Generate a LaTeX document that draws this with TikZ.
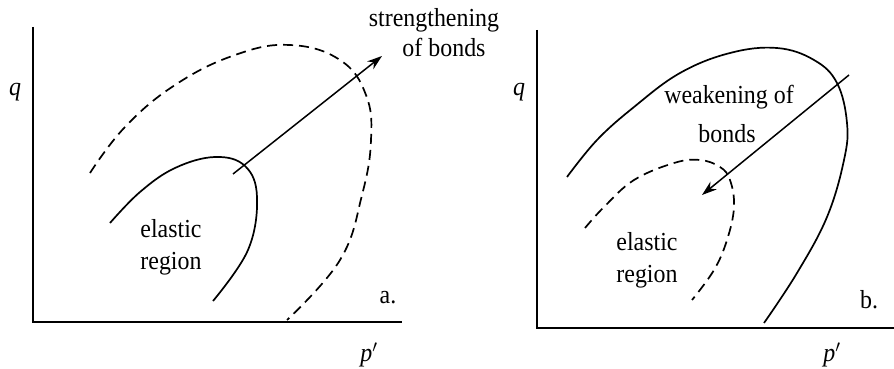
\documentclass[tikz,border=0pt]{standalone}
\usepackage{fontspec}
\setmainfont[FakeStretch=0.92]{Liberation Serif}
\usetikzlibrary{arrows.meta}
\begin{document}
\begin{tikzpicture}[x=1pt,y=-1pt,
  axis/.style={line width=2.2pt},
  yield/.style={line width=1.7pt},
  yielddash/.style={line width=1.7pt,dash pattern=on 10pt off 6pt},
  dirarrow/.style={line width=1.5pt,-{Stealth[length=15pt,width=10pt]}},
  lbl/.style={font=\fontsize{26}{28}\selectfont,inner sep=0pt,align=center},
  ax/.style={font=\fontsize{26}{28}\selectfont\itshape,inner sep=0pt}]
\useasboundingbox (0,0) rectangle (894,369);
% ---------- panel a ----------
\coordinate (a0) at (33,322);
\coordinate (ay) at (33,27);
\coordinate (ax) at (402,322);
\draw[axis] (ay) -- (a0) -- (ax);
\node[ax] (qa) at (15,92) {q};
\node[ax] (pa) at (369,355) {p$'$};
\node[lbl] (la) at (388,298) {a.};
\draw[yield] plot[smooth,tension=0.65] coordinates {(110,223) (140,192) (175,168) (215,157) (245,166) (257,197) (248,250) (213,301)};
\draw[yielddash] plot[smooth,tension=0.7] coordinates {(90,173) (125,127) (175,85) (235,55) (290,45) (340,60) (366,95) (371,140) (362,195) (340,260) (287,320)};
\coordinate (sa) at (233,174);
\coordinate (ea) at (382,56);
\draw[dirarrow] (sa) -- (ea);
\node[lbl] (st1) at (434,20) {strengthening};
\node[lbl] (st2) at (444,47) {of bonds};
\node[lbl] (ea1) at (171,229) {elastic};
\node[lbl] (ea2) at (171,264) {region};
% ---------- panel b ----------
\coordinate (b0) at (537,328);
\coordinate (by) at (537,30);
\coordinate (bx) at (894,328);
\draw[axis] (by) -- (b0) -- (bx);
\node[ax] (qb) at (519,92) {q};
\node[ax] (pb) at (832,355) {p$'$};
\node[lbl] (lb) at (869,300) {b.};
\draw[yield] plot[smooth,tension=0.65] coordinates {(567,177) (597,140) (634,107) (680,73) (730,53) (777,48) (814,60) (837,83) (847,123) (844,160) (827,217) (797,273) (764,323)};
\draw[yielddash] plot[smooth,tension=0.65] coordinates {(585,228) (604,207) (634,180) (674,163) (700,160) (720,167) (730,180) (734,207) (727,240) (714,270) (692,300)};
\coordinate (sb) at (849,75);
\coordinate (eb) at (702,195);
\draw[dirarrow] (sb) -- (eb);
\node[lbl] (wk1) at (729,97) {weakening of};
\node[lbl] (wk2) at (727,134) {bonds};
\node[lbl] (eb1) at (647,242) {elastic};
\node[lbl] (eb2) at (647,277) {region};
\end{tikzpicture}
\end{document}
